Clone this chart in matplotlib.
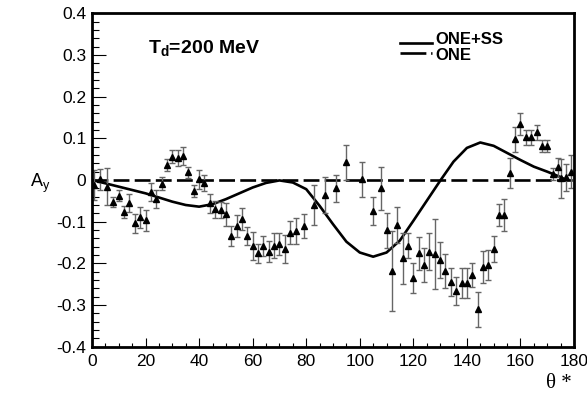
import numpy as np
import matplotlib
matplotlib.use('Agg')
import matplotlib.pyplot as plt
from matplotlib.ticker import MultipleLocator

plt.rcParams['font.family'] = ['Liberation Sans', 'DejaVu Sans']

# measured points (theta*, A_y, error)
theta = [0.75, 3, 5.5, 8, 10, 12, 14, 16, 18, 20, 22, 24, 26, 28, 30, 32, 34, 36,
         38, 40, 42, 44, 46, 48, 50, 52, 54, 56, 58, 60, 62, 64, 66, 68, 70, 72,
         74, 76, 79, 83, 87, 91, 95, 101, 105, 108, 110, 112, 114, 116, 118, 120,
         122, 124, 126, 128, 130, 132, 134, 136, 138, 140, 142, 144, 146, 148,
         150, 152, 154, 156, 158, 160, 162, 164, 166, 168, 170, 172, 174, 175,
         177, 179]
ay = [-0.012, 0.002, -0.016, -0.053, -0.038, -0.076, -0.055, -0.104, -0.089,
      -0.097, -0.028, -0.046, -0.009, 0.036, 0.056, 0.052, 0.058, 0.018, -0.026,
      0.002, -0.008, -0.056, -0.070, -0.072, -0.082, -0.134, -0.110, -0.094,
      -0.134, -0.158, -0.176, -0.158, -0.172, -0.158, -0.154, -0.166, -0.126,
      -0.122, -0.110, -0.060, -0.036, -0.020, 0.042, 0.002, -0.074, -0.020,
      -0.120, -0.218, -0.108, -0.188, -0.158, -0.236, -0.176, -0.204, -0.172,
      -0.178, -0.192, -0.218, -0.244, -0.266, -0.246, -0.246, -0.228, -0.310,
      -0.208, -0.204, -0.166, -0.084, -0.084, 0.016, 0.098, 0.134, 0.102, 0.102,
      0.114, 0.082, 0.082, 0.014, 0.030, 0.004, 0.006, 0.020]
ay_err = [0.036, 0.025, 0.045, 0.012, 0.013, 0.014, 0.021, 0.023, 0.025, 0.026,
          0.022, 0.022, 0.016, 0.014, 0.015, 0.019, 0.021, 0.014, 0.014, 0.023,
          0.019, 0.022, 0.020, 0.020, 0.028, 0.024, 0.026, 0.026, 0.022, 0.034,
          0.022, 0.024, 0.025, 0.030, 0.026, 0.033, 0.028, 0.032, 0.028, 0.048,
          0.042, 0.032, 0.042, 0.042, 0.034, 0.051, 0.042, 0.096, 0.044, 0.062,
          0.030, 0.036, 0.040, 0.040, 0.044, 0.084, 0.044, 0.040, 0.034, 0.034,
          0.036, 0.036, 0.028, 0.042, 0.038, 0.036, 0.031, 0.027, 0.039, 0.036,
          0.030, 0.027, 0.019, 0.018, 0.018, 0.015, 0.015, 0.015, 0.022, 0.046,
          0.032, 0.040]

# ONE+SS calculation
ss_theta = [0, 5, 10, 15, 20, 25, 30, 35, 40, 45, 50, 55, 60, 65, 70, 75, 80, 85,
            90, 95, 100, 105, 110, 115, 120, 125, 130, 135, 140, 145, 150, 155,
            160, 165, 170, 175, 177]
ss_ay = [0.0, -0.008, -0.016, -0.024, -0.032, -0.042, -0.052, -0.060, -0.064,
         -0.058, -0.046, -0.032, -0.018, -0.007, -0.001, -0.006, -0.022, -0.062,
         -0.106, -0.148, -0.174, -0.184, -0.174, -0.145, -0.098, -0.050, -0.002,
         0.044, 0.077, 0.090, 0.082, 0.065, 0.048, 0.032, 0.020, 0.007, 0.0]

# ONE calculation
one_theta = [0, 180]
one_ay = [0.0, 0.0]

ytick_labels = ['-0.4', '-0.3', '-0.2', '-0.1', '0', '0.1', '0.2', '0.3', '0.4']

fig = plt.figure(figsize=(5.87, 3.98), dpi=100)
ax = fig.add_axes([92 / 587, 1 - 346.7 / 398, 482 / 587, 333.4 / 398])

ax.plot(one_theta, one_ay, color='black', lw=1.9, dashes=(6, 2))
ax.plot(ss_theta, ss_ay, color='black', lw=1.9)
ax.errorbar(theta, ay, yerr=ay_err, fmt='^', color='black', ms=5,
            ecolor='0.4', elinewidth=1, capsize=2, capthick=1)

ax.set_xlim(0, 180)
ax.set_ylim(-0.4, 0.4)
ax.xaxis.set_major_locator(MultipleLocator(20))
ax.xaxis.set_minor_locator(MultipleLocator(5))
ax.set_yticks(np.arange(-0.4, 0.41, 0.1))
ax.set_yticklabels(ytick_labels)
ax.yaxis.set_minor_locator(MultipleLocator(0.02))

ax.tick_params(axis='both', which='both', direction='in', top=False, right=False,
               width=0.8, labelsize=12.5)
ax.tick_params(axis='y', which='major', length=10, pad=4)
ax.tick_params(axis='y', which='minor', length=5)
ax.tick_params(axis='x', which='major', length=6.5, pad=5)
ax.tick_params(axis='x', which='minor', length=3.2)
for sp in ax.spines.values():
    sp.set_linewidth(2)

ax.text(-0.108, 0.49, r'A$_\mathregular{y}$', transform=ax.transAxes,
        fontsize=13, ha='center', va='center')
ax.text(0.996, -0.109, '\u03b8 *', transform=ax.transAxes, fontsize=15,
        family='Liberation Serif', ha='right', va='center')

ax.text(0.116, 0.88, r'T$_\mathregular{d}$=200 MeV', transform=ax.transAxes,
        fontsize=14, fontweight='bold', ha='left', va='baseline')

# legend drawn by hand (ROOT style)
ax.plot([0.639, 0.705], [0.9118, 0.9118], transform=ax.transAxes,
        color='black', lw=1.9)
ax.plot([0.639, 0.705], [0.880, 0.880], transform=ax.transAxes,
        color='black', lw=1.9, dashes=(9.8, 1.8, 0.6, 4))
ax.text(0.7116, 0.9208, 'ONE+SS', transform=ax.transAxes, fontsize=12,
        fontweight='bold', ha='left', va='center')
ax.text(0.7116, 0.8749, 'ONE', transform=ax.transAxes, fontsize=12,
        fontweight='bold', ha='left', va='center')

fig.savefig('out.png', dpi=100)
